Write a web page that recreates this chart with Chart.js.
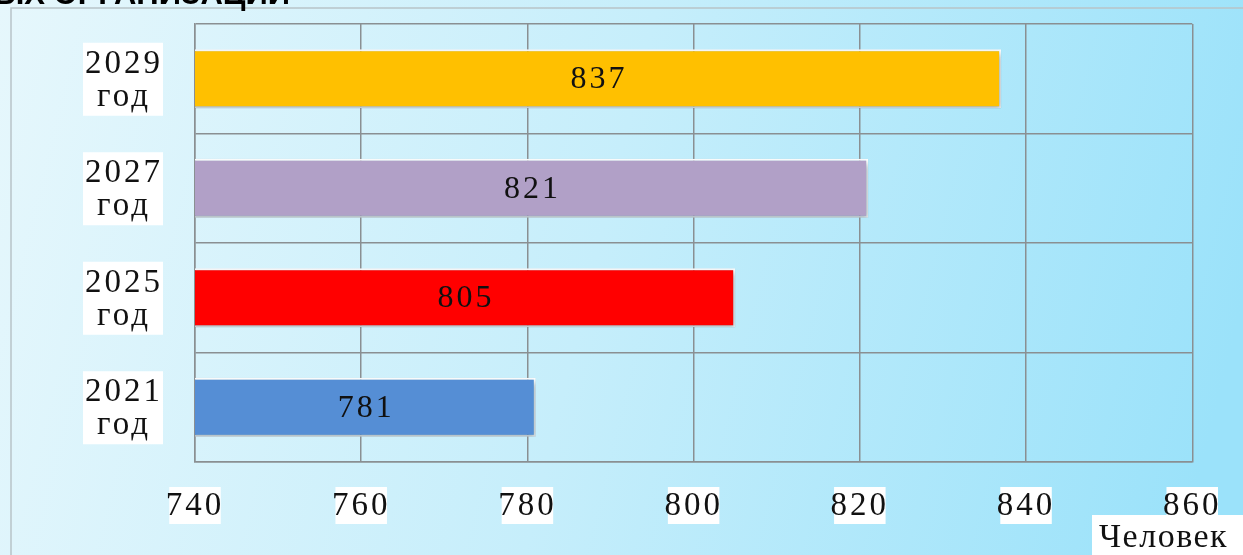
<!DOCTYPE html>
<html>
<head>
<meta charset="utf-8">
<script src="https://cdn.jsdelivr.net/npm/chart.js@4"></script>
<style>
  html, body { margin: 0; padding: 0; background: #e4f6fb; }
  #wrap { width: 1243px; height: 555px; position: relative; }
</style>
</head>
<body>
<div id="wrap"><canvas id="chart" width="1243" height="555"></canvas></div>
<script>
const years = [['2029', 'год'], ['2027', 'год'], ['2025', 'год'], ['2021', 'год']];
const people = [837, 821, 805, 781];
const barColors = ['#FFC000', '#B1A0C7', '#FF0000', '#558ED5'];
const xTicks = [740, 760, 780, 800, 820, 840, 860];

const serif = '"Liberation Serif", "Times New Roman", serif';

// background, frame and cut-off heading
const backdrop = {
    id: 'backdrop',
    beforeDraw: (chart) => {
        const ctx = chart.ctx;
        ctx.save();
        const g = ctx.createLinearGradient(0, 0, 1243, 300);
        g.addColorStop(0, '#e6f7fc');
        g.addColorStop(0.5, '#c6eefb');
        g.addColorStop(1, '#9be2fa');
        ctx.fillStyle = g;
        ctx.fillRect(0, 0, 1243, 555);
        ctx.strokeStyle = '#b8c4c8';
        ctx.lineWidth = 1.5;
        ctx.beginPath();
        ctx.moveTo(11, 555);
        ctx.lineTo(11, 8);
        ctx.lineTo(1243, 8);
        ctx.stroke();
        ctx.fillStyle = '#000';
        ctx.font = 'bold 31px "Liberation Sans", Arial, sans-serif';
        ctx.textAlign = 'right';
        ctx.textBaseline = 'alphabetic';
        ctx.fillText('ПОДВЕДОМСТВЕННЫХ ОРГАНИЗАЦИИ', 290, 4);
        ctx.restore();
        ctx.letterSpacing = '3px';
    }
};

const barShadow = {
    id: 'barShadow',
    beforeDatasetsDraw: (chart) => {
        const ctx = chart.ctx;
        ctx.save();
        ctx.shadowColor = 'rgba(0, 40, 60, 0.35)';
        ctx.shadowBlur = 6;
        ctx.shadowOffsetX = 2;
        ctx.shadowOffsetY = 3;
    },
    afterDatasetsDraw: (chart) => {
        chart.ctx.restore();
    }
};

const labels = {
    id: 'labels',
    afterDatasetsDraw: (chart) => {
        const ctx = chart.ctx;
        const yScale = chart.scales.y;
        ctx.save();
        ctx.letterSpacing = '3px';
        ctx.font = '32px ' + serif;
        ctx.fillStyle = '#111';
        ctx.textAlign = 'center';
        ctx.textBaseline = 'middle';
        chart.getDatasetMeta(0).data.forEach((bar, i) => {
            const x0 = chart.scales.x.getPixelForValue(740);
            ctx.fillText(String(people[i]), (x0 + bar.x) / 2 + 1, bar.y + 1);
        });
        // category labels on the left
        ctx.textBaseline = 'alphabetic';
        years.forEach((lines, i) => {
            const cy = yScale.getPixelForTick(i);
            ctx.fillStyle = '#fff';
            ctx.fillRect(83, cy - 36, 80, 73);
            ctx.fillStyle = '#111';
            ctx.font = '33px ' + serif;
            ctx.fillText(lines[0], 124, cy - 6);
            ctx.fillText(lines[1], 124, cy + 27);
        });
        ctx.restore();
    },
    afterDraw: (chart) => {
        const ctx = chart.ctx;
        ctx.save();
        ctx.fillStyle = '#fff';
        ctx.fillRect(1092, 515, 151, 40);
        ctx.letterSpacing = '1.5px';
        ctx.font = '34px ' + serif;
        ctx.fillStyle = '#111';
        ctx.textAlign = 'left';
        ctx.textBaseline = 'alphabetic';
        ctx.fillText('Человек', 1099, 547);
        ctx.restore();
    }
};

new Chart(document.getElementById('chart'), {
    type: 'bar',
    data: {
        labels: years,
        datasets: [{
            data: people,
            backgroundColor: barColors,
            borderColor: '#ffffff',
            borderWidth: 2,
            borderSkipped: false,
            categoryPercentage: 1,
            barPercentage: 0.54
        }]
    },
    options: {
        responsive: false,
        animation: false,
        indexAxis: 'y',
        layout: { padding: { left: 50, right: 50, top: 24, bottom: 31 } },
        plugins: {
            legend: { display: false },
            tooltip: { enabled: false }
        },
        scales: {
            x: {
                min: 740,
                max: 860,
                afterBuildTicks: (scale) => { scale.ticks = xTicks.map(v => ({ value: v })); },
                afterFit: (scale) => { scale.height = 62; },
                grid: { color: '#8a8f92', lineWidth: 1.5, drawTicks: false },
                border: { color: '#8a8f92', width: 1.5 },
                ticks: {
                    padding: 26,
                    maxRotation: 0,
                    color: '#111',
                    font: { family: serif, size: 33, lineHeight: 1.1 },
                    showLabelBackdrop: true,
                    backdropColor: '#ffffff',
                    backdropPadding: { top: 1, bottom: 1, left: 1, right: 1 }
                }
            },
            y: {
                offset: true,
                afterFit: (scale) => { scale.width = 145; },
                grid: { offset: true, color: '#8a8f92', lineWidth: 1.5, drawTicks: false },
                border: { color: '#8a8f92', width: 1.5 },
                ticks: { display: false }
            }
        }
    },
    plugins: [backdrop, barShadow, labels]
});
</script>
</body>
</html>
